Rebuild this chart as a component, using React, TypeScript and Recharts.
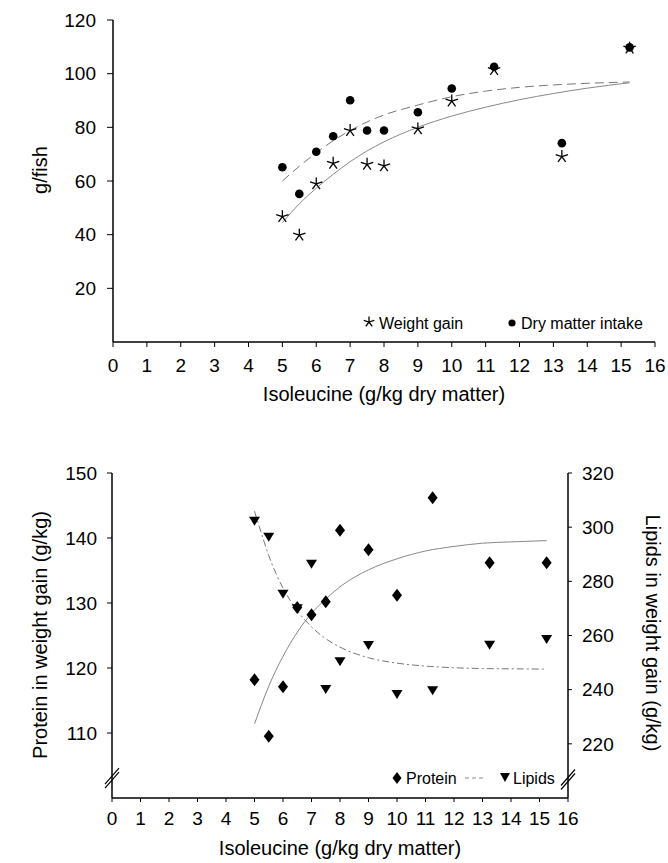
import React from "react";
import { ComposedChart, Scatter, Line, XAxis, YAxis, ReferenceDot } from "recharts";

// diet levels (g isoleucine / kg dry matter)
const isoLevels = [5, 5.5, 6, 6.5, 7, 7.5, 8, 9, 10, 11.25, 13.25, 15.25];

// top panel, g/fish
const weightGain = [46.7, 39.8, 58.9, 66.6, 78.8, 66.2, 65.6, 79.4, 89.8, 101.5, 69.1, 109.5];
const dryMatterIntake = [65.1, 55.2, 70.9, 76.7, 90.1, 78.8, 78.8, 85.6, 94.5, 102.6, 74.1, 109.8];

const topFitX = [5, 5.5, 6, 6.5, 7, 7.5, 8, 9, 10, 11, 12, 13, 14, 15.25];
const weightGainFit = [44.5, 51.5, 57.3, 62.5, 67.2, 71.2, 74.6, 80, 84.2, 87.5, 90.3, 92.6, 94.6, 96.6];
const intakeFit = [60, 65.5, 70.5, 75, 78.8, 82, 84.6, 88.3, 91.4, 93.5, 94.9, 95.8, 96.4, 96.9];

// bottom panel, g/kg weight gain
const protein = [118.2, 109.5, 117.1, 129.3, 128.2, 130.2, 141.2, 138.2, 131.2, 146.2, 136.2, 136.2];
const lipids = [302.2, 296.3, 275.2, 269.9, 286.3, 240.1, 250.3, 256.3, 238.2, 239.6, 256.4, 258.5];

const proteinFitX = [5, 5.5, 6, 6.5, 7, 7.5, 8, 9, 10, 11, 12, 13, 14, 15.25];
const proteinFit = [111.4, 117.2, 121.8, 125.5, 128.4, 130.6, 132.5, 135.1, 136.8, 138, 138.7, 139.2, 139.4, 139.6];
const lipidFitX = [5, 5.25, 5.5, 5.75, 6, 6.5, 7, 7.5, 8, 9, 10, 11, 12, 13, 14, 15.25];
const lipidFit = [305.9, 297.5, 289.5, 283, 277.5, 269.2, 263.2, 258.8, 255.7, 251.8, 249.8, 248.7, 248.1, 247.8, 247.7, 247.6];

const xTicks = [0, 1, 2, 3, 4, 5, 6, 7, 8, 9, 10, 11, 12, 13, 14, 15, 16];
const fishTicks = [20, 40, 60, 80, 100, 120];
const proteinTicks = [110, 120, 130, 140, 150];
const lipidTicks = [220, 240, 260, 280, 300, 320];

const FONT = "'Liberation Sans', Arial, Helvetica, sans-serif";
const tickStyle = { fill: "#000", fontSize: 19, fontFamily: FONT };
const axisStyle = { stroke: "#000", strokeWidth: 1.5 };

const toPoints = (xs: number[], ys: number[]) => xs.map((x, i) => ({ x, y: ys[i] }));

const StarMark = (p: any) => {
    const r = p.r || 6.5;
    return (
        <g stroke="#000" strokeWidth={1.3}>
            {[0, 1, 2, 3, 4].map((k) => {
                const a = ((-90 + k * 72) * Math.PI) / 180;
                return <line key={k} x1={p.cx} y1={p.cy} x2={p.cx + r * Math.cos(a)} y2={p.cy + r * Math.sin(a)} />;
            })}
        </g>
    );
};

const DotMark = (p: any) => <circle cx={p.cx} cy={p.cy} r={4.3} fill="#000" />;

const DiamondMark = (p: any) => (
    <path d={`M${p.cx},${p.cy - 6.5}L${p.cx + 5},${p.cy}L${p.cx},${p.cy + 6.5}L${p.cx - 5},${p.cy}Z`} fill="#000" />
);

const TriangleMark = (p: any) => (
    <path d={`M${p.cx - 5.5},${p.cy - 4.5}L${p.cx + 5.5},${p.cy - 4.5}L${p.cx},${p.cy + 4.5}Z`} fill="#000" />
);

const BreakMark = (p: any) => (
    <g stroke="#000" strokeWidth={1.2}>
        <line x1={p.cx - 7} y1={p.cy + 7} x2={p.cx + 7} y2={p.cy - 9} />
        <line x1={p.cx - 7} y1={p.cy + 11} x2={p.cx + 7} y2={p.cy - 5} />
    </g>
);

const vbOf = (props: any) => props?.viewBox || { x: 0, y: 0, width: 0, height: 0 };

const xTitle = (dy: number) => (props: any) => {
    const vb = vbOf(props);
    return (
        <text x={vb.x + vb.width / 2} y={vb.y + dy} textAnchor="middle" fontSize={20} fontFamily={FONT} fill="#000">
            Isoleucine (g/kg dry matter)
        </text>
    );
};

const leftTitle = (text: string, dy: number) => (props: any) => {
    const vb = vbOf(props);
    const cx = vb.x + 40;
    const cy = vb.y + dy;
    return (
        <text x={cx} y={cy} transform={`rotate(-90, ${cx}, ${cy})`} textAnchor="middle" dominantBaseline="central"
            fontSize={20} fontFamily={FONT} fill="#000">
            {text}
        </text>
    );
};

const rightTitle = (props: any) => {
    const vb = vbOf(props);
    const cx = vb.x + 85;
    const cy = vb.y + 160;
    return (
        <text x={cx} y={cy} transform={`rotate(90, ${cx}, ${cy})`} textAnchor="middle" dominantBaseline="central"
            fontSize={20} fontFamily={FONT} fill="#000">
            Lipids in weight gain (g/kg)
        </text>
    );
};

function GrowthChart() {
    return (
        <ComposedChart width={668} height={420} margin={{ top: 20, right: 13, bottom: 0, left: 0 }}>
            <XAxis type="number" dataKey="x" domain={[0, 16]} ticks={xTicks} interval={0}
                axisLine={axisStyle} tickLine={{ stroke: "#000" }} tickSize={5} tickMargin={12}
                tick={tickStyle} height={78} label={xTitle(59)} />
            <YAxis type="number" dataKey="y" domain={[0, 120]} ticks={fishTicks} interval={0}
                axisLine={axisStyle} tickLine={{ stroke: "#000" }} tickSize={6} tickMargin={11}
                tick={tickStyle} width={113} label={leftTitle("g/fish", 150)} />
            <Line data={toPoints(topFitX, intakeFit)} dataKey="y" type="monotone" stroke="#777"
                strokeWidth={1} strokeDasharray="9 5" dot={false} isAnimationActive={false} />
            <Line data={toPoints(topFitX, weightGainFit)} dataKey="y" type="monotone" stroke="#888"
                strokeWidth={1} dot={false} isAnimationActive={false} />
            <Scatter data={toPoints(isoLevels, weightGain)} dataKey="y" shape={StarMark} isAnimationActive={false} />
            <Scatter data={toPoints(isoLevels, dryMatterIntake)} dataKey="y" shape={DotMark} isAnimationActive={false} />
        </ComposedChart>
    );
}

function CompositionChart() {
    return (
        <ComposedChart width={668} height={423} margin={{ top: 33, right: 0, bottom: 0, left: 0 }}>
            <XAxis type="number" dataKey="x" domain={[0, 16]} ticks={xTicks} interval={0}
                axisLine={axisStyle} tickLine={{ stroke: "#000" }} tickSize={4} tickMargin={10}
                tick={tickStyle} height={65} label={xTitle(57)} />
            <YAxis yAxisId="left" type="number" dataKey="y" domain={[100, 150]} ticks={proteinTicks} interval={0}
                axisLine={axisStyle} tickLine={{ stroke: "#000" }} tickSize={5} tickMargin={10}
                tick={tickStyle} width={112} label={leftTitle("Protein in weight gain (g/kg)", 162)} />
            <YAxis yAxisId="right" orientation="right" type="number" dataKey="y" domain={[200, 320]} ticks={lipidTicks}
                interval={0} axisLine={axisStyle} tickLine={{ stroke: "#000" }} tickSize={4} tickMargin={10}
                tick={{ ...tickStyle, textAnchor: "start" }} width={100} label={rightTitle} />
            <Line yAxisId="left" data={toPoints(proteinFitX, proteinFit)} dataKey="y" type="monotone" stroke="#888"
                strokeWidth={1} dot={false} isAnimationActive={false} />
            <Line yAxisId="right" data={toPoints(lipidFitX, lipidFit)} dataKey="y" type="monotone" stroke="#777"
                strokeWidth={1} strokeDasharray="7 3 2 3" dot={false} isAnimationActive={false} />
            <Scatter yAxisId="left" data={toPoints(isoLevels, protein)} dataKey="y" shape={DiamondMark} isAnimationActive={false} />
            <Scatter yAxisId="right" data={toPoints(isoLevels, lipids)} dataKey="y" shape={TriangleMark} isAnimationActive={false} />
            <ReferenceDot yAxisId="left" x={0} y={103.2} shape={BreakMark} />
            <ReferenceDot yAxisId="right" x={16} y={207.2} shape={BreakMark} />
        </ComposedChart>
    );
}

function Legends() {
    const txt = { fontSize: 16, fontFamily: FONT, fill: "#000" };
    return (
        <svg width={668} height={863} style={{ position: "absolute", left: 0, top: 0, pointerEvents: "none" }}>
            <StarMark cx={369} cy={322} r={5.5} />
            <text x={379} y={329} {...txt}>Weight gain</text>
            <circle cx={512} cy={323} r={3.6} fill="#000" />
            <text x={521} y={329} {...txt}>Dry matter intake</text>

            <path d="M397,772L401.5,778L397,784L392.5,778Z" fill="#000" />
            <text x={406} y={784} {...txt}>Protein</text>
            <line x1={465} y1={778} x2={483} y2={778} stroke="#888" strokeDasharray="4 3" />
            <path d="M500,773L510,773L505,782Z" fill="#000" />
            <text x={513} y={784} {...txt}>Lipids</text>
        </svg>
    );
}

export default function App() {
    return (
        <div style={{ position: "relative", width: 668, height: 863, background: "#fff" }}>
            <style>{"body{margin:0}"}</style>
            <div style={{ position: "absolute", left: 0, top: 0 }}>
                <GrowthChart />
            </div>
            <div style={{ position: "absolute", left: 0, top: 440 }}>
                <CompositionChart />
            </div>
            <Legends />
        </div>
    );
}
